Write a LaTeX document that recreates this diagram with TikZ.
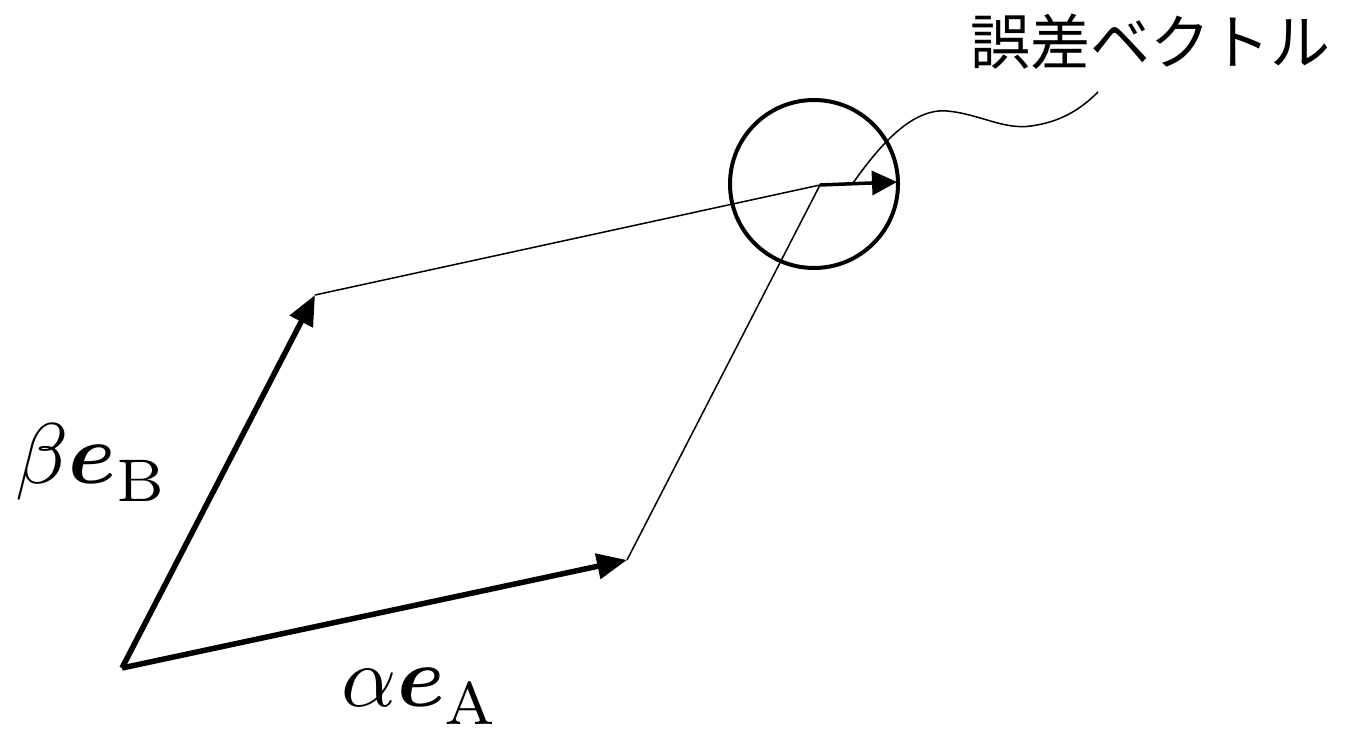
\documentclass[tikz,border=0pt]{standalone}
\usepackage{amsmath}
\usepackage{bm}
\usepackage{fontspec}
\newfontfamily\cjkfont{Noto Sans CJK JP}
\usetikzlibrary{arrows.meta}
\newcommand{\lowsub}[1]{\raisebox{-0.7pt}{$\scriptstyle\mathrm{#1}$}}
\tikzset{
  vecarrow/.style={line width=5.5pt,-{Triangle[length=30pt,width=25pt]}},
  errarrow/.style={line width=3.5pt,-{Triangle[length=25pt,width=24pt]}},
  thinline/.style={line width=1.5pt},
  ring/.style={draw,circle,line width=4pt,minimum size=168pt,inner sep=0pt},
  mathlabel/.style={inner sep=0pt,scale=8.6},
  cjklabel/.style={inner sep=0pt,font=\cjkfont\fontsize{60}{70}\selectfont}
}
\begin{document}
\begin{tikzpicture}[x=1pt,y=-1pt]
\useasboundingbox (0,0) rectangle (1345,735);
\coordinate (O) at (122,668);
\coordinate (A) at (627,560);
\coordinate (B) at (315,295);
\coordinate (C) at (820,185);
\coordinate (E) at (897,182);
\coordinate (L0) at (853,183);
\coordinate (L1) at (947,111);
\coordinate (L2) at (1031,126);
\coordinate (L3) at (1098,92);
\node[ring] (ring) at (814,184) {};
\draw[thinline] (B) -- (C);
\draw[thinline] (A) -- (C);
\draw[vecarrow] (O) -- (A);
\draw[vecarrow] (O) -- (B);
\draw[errarrow] (C) -- (E);
\draw[thinline] (L0) .. controls (880,145) and (912,108) .. (L1)
  .. controls (980,114) and (1003,130) .. (L2)
  .. controls (1060,122) and (1080,110) .. (L3);
\node[mathlabel,anchor=base west] (lb) at (14,483) {$\beta\bm{e}_{\lowsub{B}}$};
\node[mathlabel,anchor=base west] (la) at (340,706) {$\alpha\bm{e}_{\lowsub{A}}$};
\node[cjklabel] (le) at (1150,42) {誤差ベクトル};
\end{tikzpicture}
\end{document}
